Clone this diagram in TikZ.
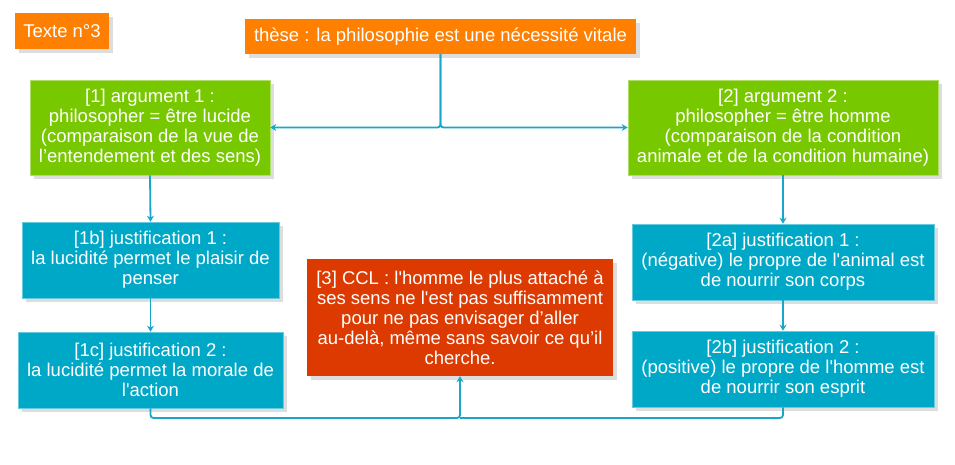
\documentclass[tikz,border=0pt]{standalone}
\usepackage{fontspec}
\newfontfamily\arial{Liberation Sans}
\usetikzlibrary{shadows,arrows.meta}
\definecolor{orng}{HTML}{FF7F00}
\definecolor{grn}{HTML}{78C800}
\definecolor{blu}{HTML}{00A8C8}
\definecolor{rd}{HTML}{DC3A00}
\definecolor{ln}{HTML}{1AA6CA}
\tikzset{
  box/.style={inner sep=1pt, align=center, text=white, font=\arial\fontsize{18.5}{20}\selectfont,
    drop shadow={shadow xshift=4pt, shadow yshift=-4pt, fill=black!22, opacity=0.6}},
  obox/.style={box, fill=orng},
  gbox/.style={box, fill=grn, draw=grn!60!white, line width=0.6pt},
  bbox/.style={box, fill=blu, draw=blu!60!white, line width=0.6pt},
  rbox/.style={box, fill=rd},
  conn/.style={draw=ln, line width=1.8pt, rounded corners=3pt},
  arr/.style={conn, -{Stealth[length=6pt,width=7pt]}}
}
\begin{document}
\begin{tikzpicture}[x=1pt,y=-1pt]
\useasboundingbox (0,0) rectangle (955,464);
\node[obox, minimum width=94pt, minimum height=36pt] (txt) at (62,31) {Texte n°3};
\node[obox, minimum width=391pt, minimum height=35pt] (these) at (440.5,36.5) {thèse : la philosophie est une nécessité vitale};
\node[gbox, minimum width=240pt, minimum height=95pt] (a1) at (150,127.5) {[1] argument 1 :\\philosopher = être lucide\\(comparaison de la vue de\\l’entendement et des sens)};
\node[gbox, minimum width=310pt, minimum height=95pt] (a2) at (783,127.5) {[2] argument 2 :\\philosopher = être homme\\(comparaison de la condition\\animale et de la condition humaine)};
\node[bbox, minimum width=257pt, minimum height=76pt] (b1) at (150.5,260) {[1b] justification 1 :\\la lucidité permet le plaisir de\\penser};
\node[bbox, minimum width=265pt, minimum height=76pt] (c1) at (150.5,370) {[1c] justification 2 :\\la lucidité permet la morale de\\l'action};
\node[rbox, minimum width=306pt, minimum height=117pt] (ccl) at (460,317.5) {[3] CCL : l'homme le plus attaché à\\ses sens ne l'est pas suffisamment\\pour ne pas envisager d’aller\\au-delà, même sans savoir ce qu’il\\cherche.};
\node[bbox, minimum width=302pt, minimum height=76pt] (b2) at (783,262) {[2a] justification 1 :\\(négative) le propre de l'animal est\\de nourrir son corps};
\node[bbox, minimum width=302pt, minimum height=76pt] (c2) at (783,369) {[2b] justification 2 :\\(positive) le propre de l'homme est\\de nourrir son esprit};
\coordinate (j) at (460,418);
\draw[arr] (these.south) |- (a1.east);
\draw[arr] (these.south) |- (a2.west);
\draw[arr] (a1.south) -- (b1.north);
\draw[arr] (b1.south) -- (c1.north);
\draw[arr] (a2.south) -- (b2.north);
\draw[arr] (b2.south) -- (c2.north);
\draw[arr] (c1.south) |- (j) -- (ccl.south);
\draw[conn] (c2.south) |- (j);
\end{tikzpicture}
\end{document}
